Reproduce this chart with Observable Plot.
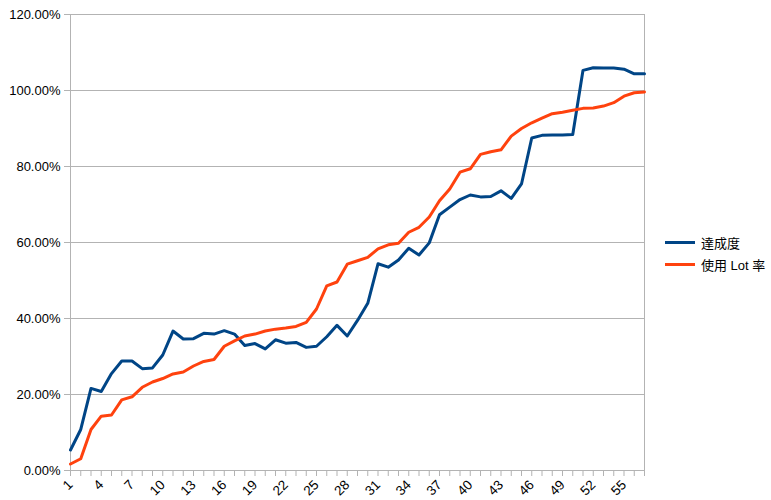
<!DOCTYPE html>
<html>
<head>
<meta charset="utf-8">
<script src="https://cdn.jsdelivr.net/npm/d3@7"></script>
<script src="https://cdn.jsdelivr.net/npm/@observablehq/plot@0.6"></script>
<style>
  html, body { margin: 0; padding: 0; background: #fff; }
  #wrap { position: relative; width: 771px; height: 500px; font-family: "Liberation Sans", Arial, sans-serif; }
  #legend { position: absolute; left: 665px; top: 231px; font-size: 13px; color: #000;
            font-family: "Liberation Sans", "Noto Sans CJK JP", sans-serif; }
  .row { display: flex; align-items: center; height: 22.6px; }
  .sw { width: 30px; height: 3px; margin-right: 6px; }
</style>
</head>
<body>
<div id="wrap"><div id="chart"></div><div id="legend"></div></div>
<script>
const categories = [1,2,3,4,5,6,7,8,9,10,11,12,13,14,15,16,17,18,19,20,21,22,23,24,25,26,27,28,29,30,31,32,33,34,35,36,37,38,39,40,41,42,43,44,45,46,47,48,49,50,51,52,53,54,55,56,57];
const seriesNames = ["達成度", "使用 Lot 率"];
const seriesColors = ["#004586", "#ff420e"];
const achievement = [5.4,10.8,21.6,20.8,25.5,28.8,28.8,26.8,27.0,30.4,36.7,34.6,34.7,36.1,35.9,36.8,35.9,32.9,33.4,32.0,34.4,33.5,33.7,32.4,32.7,35.2,38.2,35.4,39.5,44.0,54.4,53.5,55.4,58.5,56.7,59.9,67.3,69.3,71.3,72.5,72.0,72.1,73.6,71.6,75.4,87.5,88.2,88.3,88.3,88.4,105.3,106.0,105.9,105.9,105.6,104.4,104.4];
const lotUsage = [1.7,3.1,10.8,14.3,14.6,18.6,19.4,21.9,23.3,24.2,25.4,25.9,27.5,28.7,29.2,32.7,34.1,35.4,35.9,36.7,37.2,37.5,37.9,39.0,42.5,48.6,49.6,54.3,55.2,56.1,58.3,59.4,59.8,62.7,64.0,66.7,71.0,74.1,78.5,79.4,83.2,83.9,84.4,88.0,90.0,91.5,92.7,93.9,94.3,94.8,95.3,95.4,95.9,96.8,98.5,99.4,99.6];
const yTicks = [0,20,40,60,80,100,120];
const xLabelEvery = 3;

const rows = [];
[achievement, lotUsage].forEach((vals, s) => {
  categories.forEach((c, i) => rows.push({x: c, y: vals[i], series: seriesNames[s]}));
});

const gray = "#b3b3b3";
const chart = Plot.plot({
  width: 771,
  height: 500,
  marginLeft: 70,
  marginRight: 127,
  marginTop: 14,
  marginBottom: 30,
  style: {fontFamily: "'Liberation Sans', Arial, sans-serif", fontSize: "13px", color: "#000", background: "#fff"},
  x: {domain: [categories[0], categories[categories.length - 1]]},
  y: {domain: [0, 120]},
  color: {domain: seriesNames, range: seriesColors},
  marks: [
    Plot.gridY(yTicks, {stroke: gray, strokeOpacity: 1}),
    Plot.frame({stroke: gray}),
    Plot.axisY(yTicks, {tickSize: 6, tickPadding: 4, stroke: gray, fill: "#000",
      tickFormat: d => d.toFixed(2) + "%", label: null, fontSize: 13}),
    Plot.axisX(categories, {tickSize: 6, tickPadding: 6, stroke: gray, fill: "#000", tickRotate: -45,
      tickFormat: d => ((d - categories[0]) % xLabelEvery === 0 ? String(d) : ""), label: null, fontSize: 13.5}),
    Plot.line(rows, {x: "x", y: "y", z: "series", stroke: "series", strokeWidth: 3, strokeLinejoin: "round"})
  ]
});
document.getElementById("chart").appendChild(chart);

const legend = document.getElementById("legend");
seriesNames.forEach((name, i) => {
  const row = document.createElement("div");
  row.className = "row";
  const sw = document.createElement("div");
  sw.className = "sw";
  sw.style.background = seriesColors[i];
  const t = document.createElement("span");
  t.textContent = name;
  row.appendChild(sw); row.appendChild(t);
  legend.appendChild(row);
});
</script>
</body>
</html>
